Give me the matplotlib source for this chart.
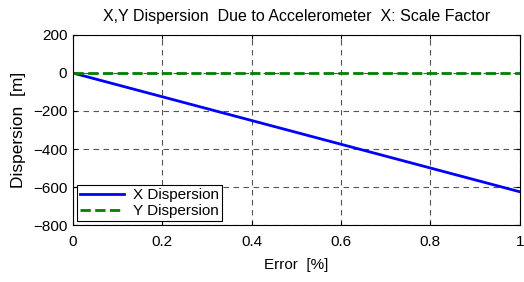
import matplotlib
matplotlib.use('Agg')
import matplotlib.pyplot as plt

# data
error_pct = [0.0, 0.2, 0.4, 0.6, 0.8, 1.0]
x_disp = [0.0, -125.0, -250.0, -375.0, -500.0, -625.0]
y_disp = [0.0, 0.0, 0.0, 0.0, 0.0, 0.0]

plt.rcParams['font.family'] = ['Liberation Sans', 'DejaVu Sans']
plt.rcParams['font.size'] = 11

fig = plt.figure(figsize=(5.24, 2.82), dpi=100)
ax = fig.add_axes([0.139, 0.202, 0.853, 0.674])

ax.plot(error_pct, x_disp, '-', color='#0000ff', lw=2, label='X Dispersion')
ax.plot(error_pct, y_disp, '--', color='#008000', lw=2, label='Y Dispersion')

ax.set_xlim(0, 1)
ax.set_ylim(-800, 200)
ax.set_xticks([0, 0.2, 0.4, 0.6, 0.8, 1])
ax.set_xticklabels(['0', '0.2', '0.4', '0.6', '0.8', '1'])
ax.set_yticks(range(-800, 201, 200))
ax.grid(True, color='#555555', linestyle=(0, (5, 4)), lw=0.8)
ax.tick_params(direction='in', length=3, top=True, right=True, pad=4)
ax.tick_params(axis='x', pad=7)
for s in ax.spines.values():
    s.set_linewidth(0.8)

ax.set_title('X,Y Dispersion  Due to Accelerometer  X: Scale Factor', fontsize=11.5, pad=10)
ax.set_xlabel('Error  [%]', labelpad=7)
ax.set_ylabel('Dispersion  [m]', fontsize=12.5, labelpad=5)

leg = ax.legend(loc='lower left', fancybox=False, edgecolor='black', framealpha=1,
                handlelength=2.9, handletextpad=0.6, borderpad=0.2,
                labelspacing=0.12, borderaxespad=0.25)
leg.get_frame().set_linewidth(0.8)

fig.savefig('out.png', dpi=100)
